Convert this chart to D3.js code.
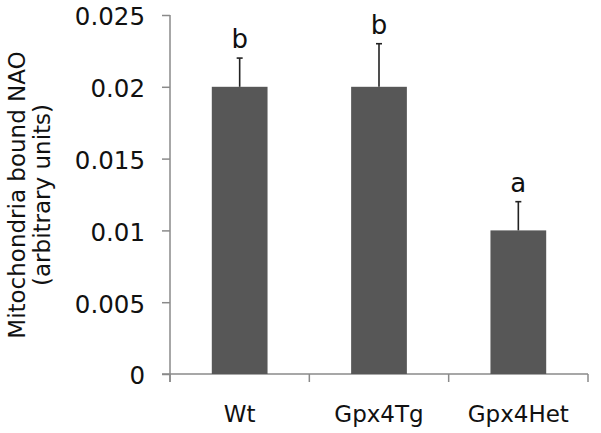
<!DOCTYPE html>
<html>
<head>
<meta charset="utf-8">
<script src="https://cdn.jsdelivr.net/npm/d3@7/dist/d3.min.js"></script>
<style>
  html, body { margin: 0; padding: 0; background: #fff; }
  svg { display: block; }
  text { font-family: "DejaVu Sans", Verdana, sans-serif; fill: #111; }
</style>
</head>
<body>
<script>
const categories = ["Wt", "Gpx4Tg", "Gpx4Het"];
const values = [0.020, 0.020, 0.010];
const errors = [0.002, 0.003, 0.002];
const letters = ["b", "b", "a"];
const yTicks = [0, 0.005, 0.01, 0.015, 0.02, 0.025];
const yTickLabels = ["0", "0.005", "0.01", "0.015", "0.02", "0.025"];
const yTitle = ["Mitochondria bound NAO", "(arbitrary units)"];

const W = 601, H = 433;
const svg = d3.select("body").append("svg").attr("width", W).attr("height", H);

const y = d3.scaleLinear().domain([0, 0.025]).range([374, 15]);
const x = d3.scaleBand().domain(categories).range([170, 588]).paddingInner(0.6).paddingOuter(0.3);

const axisColor = "#8a8a8a";

const yAxis = svg.append("g").attr("transform", "translate(170,0)")
  .call(d3.axisLeft(y).tickValues(yTicks).tickFormat("").tickSize(8).tickSizeOuter(0));
yAxis.select(".domain").remove();
yAxis.selectAll(".tick line").attr("stroke", axisColor).attr("stroke-width", 1.5);
yAxis.selectAll(".tick text").remove();
svg.append("line").attr("x1", 170).attr("x2", 170).attr("y1", y(0.025)).attr("y2", y(0) + 8)
  .attr("stroke", axisColor).attr("stroke-width", 1.5);

svg.selectAll(".ylab").data(yTicks).enter().append("text")
  .attr("x", 145).attr("y", d => y(d) + 1.5).attr("dy", "0.36em")
  .attr("text-anchor", "end")
  .style("font-size", "24.5px")
  .text((d, i) => yTickLabels[i]);

svg.append("line").attr("x1", 162).attr("x2", 588).attr("y1", y(0)).attr("y2", y(0))
  .attr("stroke", axisColor).attr("stroke-width", 1.5);
const bounds = categories.map(c => x(c) + x.bandwidth() / 2 - x.step() / 2);
bounds.push(x(categories[categories.length - 1]) + x.bandwidth() / 2 + x.step() / 2);
svg.selectAll(".xtick").data(bounds).enter().append("line")
  .attr("x1", d => d).attr("x2", d => d).attr("y1", y(0)).attr("y2", y(0) + 8)
  .attr("stroke", axisColor).attr("stroke-width", 1.5);

svg.selectAll(".xlab").data(categories).enter().append("text")
  .attr("x", d => x(d) + x.bandwidth() / 2).attr("y", 422)
  .attr("text-anchor", "middle").style("font-size", "23px").text(d => d);

svg.selectAll(".bar").data(categories).enter().append("rect")
  .attr("x", d => x(d)).attr("width", x.bandwidth())
  .attr("y", (d, i) => y(values[i])).attr("height", (d, i) => y(0) - y(values[i]))
  .attr("fill", "#575757");

categories.forEach((c, i) => {
  const cx = x(c) + x.bandwidth() / 2;
  svg.append("line").attr("x1", cx).attr("x2", cx).attr("y1", y(values[i])).attr("y2", y(values[i] + errors[i]))
    .attr("stroke", "#222").attr("stroke-width", 1.6);
  svg.append("line").attr("x1", cx - 3).attr("x2", cx + 3).attr("y1", y(values[i] + errors[i])).attr("y2", y(values[i] + errors[i]))
    .attr("stroke", "#222").attr("stroke-width", 1.6);
  svg.append("text").attr("x", cx).attr("y", y(values[i] + errors[i]) - 10)
    .attr("text-anchor", "middle").style("font-size", "26px").text(letters[i]);
});

const t = svg.append("text").attr("transform", "rotate(-90)").attr("text-anchor", "middle").style("font-size", "23px");
t.append("tspan").attr("x", -195).attr("y", 25).text(yTitle[0]);
t.append("tspan").attr("x", -195).attr("y", 50).text(yTitle[1]);
</script>
</body>
</html>
